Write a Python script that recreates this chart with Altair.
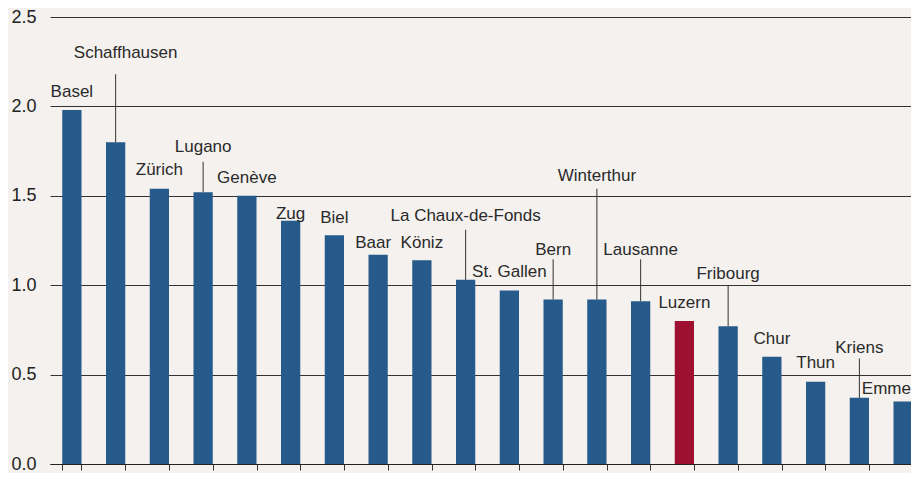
import altair as alt
import pandas as pd

cities = ["Basel", "Schaffhausen", "Zürich", "Lugano", "Genève", "Zug", "Biel", "Baar",
          "Köniz", "La Chaux-de-Fonds", "St. Gallen", "Bern", "Winterthur", "Lausanne",
          "Luzern", "Fribourg", "Chur", "Thun", "Kriens", "Emmen"]
values = [1.98, 1.80, 1.54, 1.52, 1.50, 1.36, 1.28, 1.17, 1.14, 1.03,
          0.97, 0.92, 0.92, 0.91, 0.80, 0.77, 0.60, 0.46, 0.37, 0.35]
# label baseline level (in data units)
label_level = [2.05, 2.27, 1.615, 1.745, 1.57, 1.37, 1.35, 1.21, 1.21, 1.36,
               1.045, 1.17, 1.58, 1.17, 0.875, 1.035, 0.67, 0.535, 0.62, 0.39]
# leader line top (in data units), None = no leader line
leader_top = [None, 2.18, None, 1.69, None, None, None, None, None, 1.31,
              None, 1.145, 1.54, 1.145, None, 1.0, None, None, 0.59, None]
highlight = "Luzern"
y_ticks = [0.0, 0.5, 1.0, 1.5, 2.0, 2.5]

df = pd.DataFrame({"city": cities, "value": values, "label": label_level})
df["hl"] = df["city"] == highlight
lead = pd.DataFrame({"city": cities, "value": values, "top": leader_top}).dropna()

FONT = "Liberation Sans"
xs = alt.Scale(domain=cities, range=[0, 875], paddingInner=0.56, paddingOuter=0.28)
ys = alt.Scale(domain=[0, 2.5], nice=False, zero=True)

x_enc = alt.X("city:N", sort=cities, scale=xs,
              axis=alt.Axis(labels=False, title=None, tickBand="extent", tickSize=6,
                            tickColor="#333333", domainColor="#222222", grid=False))

bars = alt.Chart(df).mark_bar().encode(
    x=x_enc,
    y=alt.Y("value:Q", scale=ys,
            axis=alt.Axis(values=y_ticks, format=".1f", title=None, domain=False, ticks=False,
                          grid=True, gridColor="#333333", gridWidth=1, labelPadding=14,
                          labelFontSize=18, labelFont=FONT, labelColor="#222222")),
    color=alt.Color("hl:N", scale=alt.Scale(domain=[False, True], range=["#255a8a", "#9e0f30"]),
                    legend=None),
)

rules = alt.Chart(lead).mark_rule(color="#333333", strokeWidth=1).encode(
    x=alt.X("city:N", sort=cities, scale=xs),
    y=alt.Y("value:Q", scale=ys),
    y2="top:Q",
)


def label_layer(names, dx=0):
    return alt.Chart(df).transform_filter(
        alt.FieldOneOfPredicate(field="city", oneOf=names)
    ).mark_text(font=FONT, fontSize=17, color="#2a2a2a", align="center",
                baseline="alphabetic", dx=dx).encode(
        x=alt.X("city:N", sort=cities, scale=xs),
        y=alt.Y("label:Q", scale=ys),
        text="city:N",
    )


shifted_right = ["Schaffhausen"]
shifted_left = ["Baar"]
shifted_far_left = ["Emmen"]
centered = [c for c in cities if c not in shifted_right + shifted_left + shifted_far_left]

texts = alt.layer(
    label_layer(centered),
    label_layer(shifted_right, 10),
    label_layer(shifted_left, -5),
    label_layer(shifted_far_left, -12),
)

chart = alt.layer(bars, rules, texts).properties(
    width=861, height=447,
    background="#f4f1ee",
    padding={"left": 42, "top": 9, "right": 0, "bottom": 9},
    autosize=alt.AutoSizeParams(type="none"),
).configure_view(stroke=None)

chart.save("out.html", embed_options={"renderer": "svg", "actions": False})
